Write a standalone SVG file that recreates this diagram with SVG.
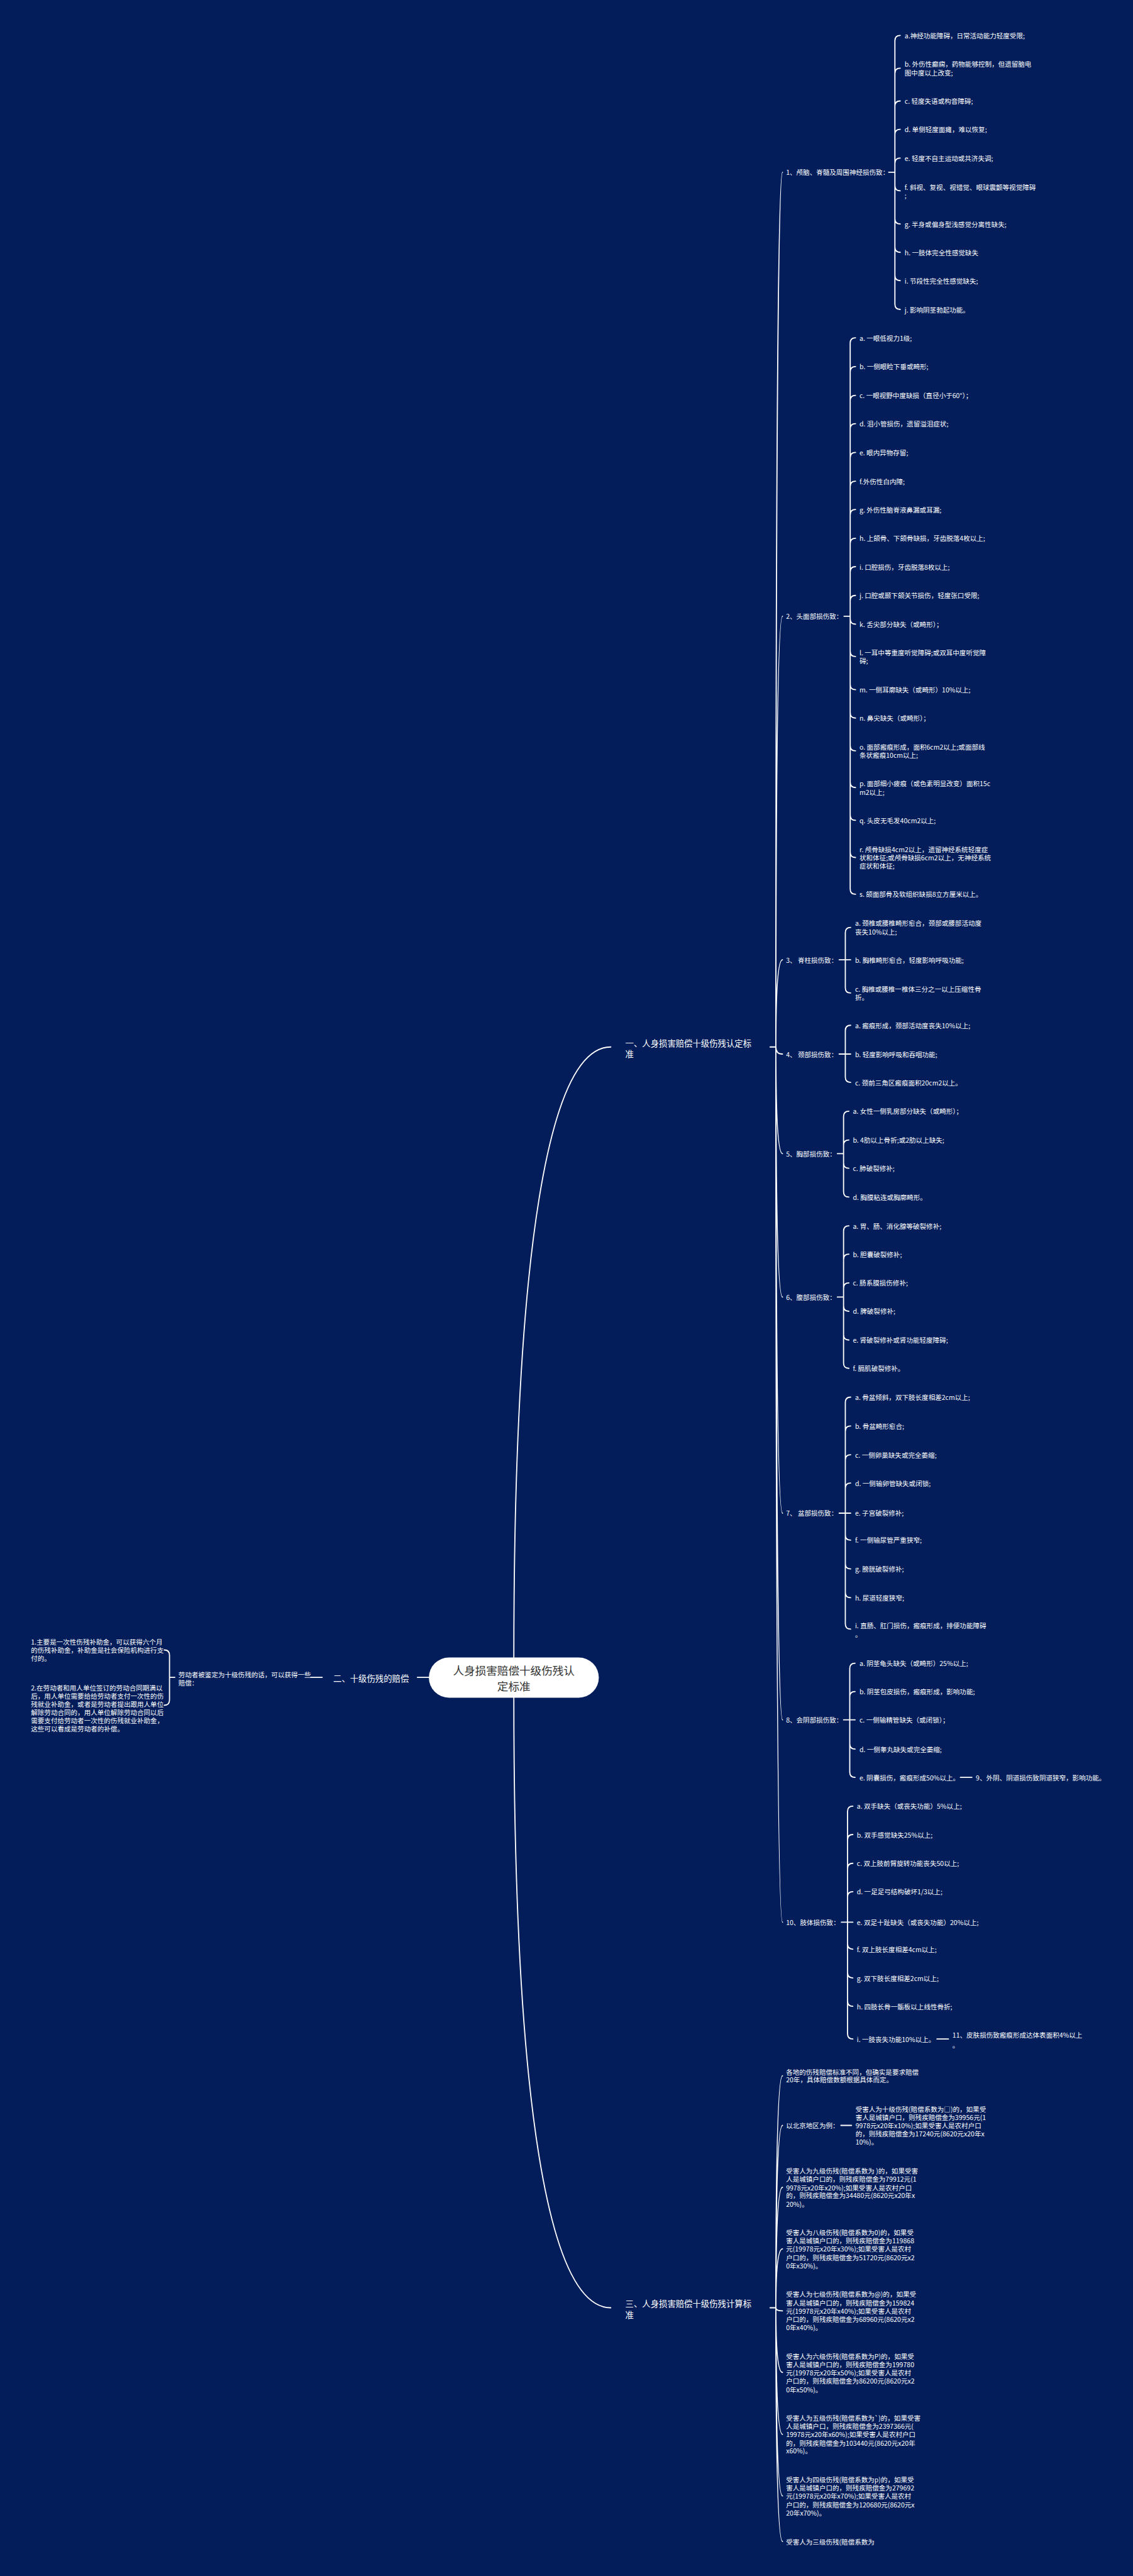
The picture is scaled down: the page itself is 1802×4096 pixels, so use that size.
<svg xmlns="http://www.w3.org/2000/svg" width="1802" height="4096" viewBox="0 0 1802 4096">
<style>
.bg{fill:#021d5a}
text{font-family:"Noto Sans CJK SC","Noto Sans",sans-serif;fill:#fff;dominant-baseline:central;font-size:15px}
.h{font-size:19px}
.root{fill:#fff}
.rt{fill:#333;font-size:25px;text-anchor:middle}
.c{fill:none;stroke:#fff;stroke-width:2.6;stroke-linecap:round}
</style>
<rect class="bg" x="0" y="0" width="1802" height="4096"/>
<g transform="scale(0.70391)">
<g id="connectors">
<path class="c" d="M1161 3744C1161 2820 1240 2365 1380 2365"/>
<path class="c" d="M1161 3835C1161 4760 1240 5213 1380 5213"/>
<path class="c" d="M943 3789H969M702 3789H728"/>
<path class="c" d="M395 3789H383M383 3789V3739Q383 3727 371 3727M383 3789V3840Q383 3852 371 3852"/>
<path class="c" d="M1740 2365H1753M1753 2365Q1753 389 1768 389M1753 2365Q1753 1392 1768 1392M1753 2365Q1753 2168 1768 2168M1753 2365Q1753 2381 1768 2381M1753 2365Q1753 2606 1768 2606M1753 2365Q1753 2930 1768 2930M1753 2365Q1753 3418 1768 3418M1753 2365Q1753 3885 1768 3885M1753 2365Q1753 4342 1768 4342"/>
<path class="c" d="M1740 5213H1753M1753 5213Q1753 4689 1768 4689M1753 5213Q1753 4801 1768 4801M1753 5213Q1753 4941 1768 4941M1753 5213Q1753 5080 1768 5080M1753 5213Q1753 5220 1768 5220M1753 5213Q1753 5359 1768 5359M1753 5213Q1753 5499 1768 5499M1753 5213Q1753 5638 1768 5638M1753 5213Q1753 5741 1768 5741"/>
<path class="c" d="M1900 4801H1924"/>
<path class="c" d="M2008 389H2022M2022 389V92Q2022 80 2034 80M2022 389V166Q2022 154 2034 154M2022 389V240Q2022 228 2034 228M2022 389V304Q2022 292 2034 292M2022 389V369Q2022 357 2034 357M2022 389V419Q2022 431 2034 431M2022 389V494Q2022 506 2034 506M2022 389V558Q2022 570 2034 570M2022 389V622Q2022 634 2034 634M2022 389V687Q2022 699 2034 699"/>
<path class="c" d="M1907 1392H1921M1921 1392V775Q1921 763 1933 763M1921 1392V840Q1921 828 1933 828M1921 1392V905Q1921 893 1933 893M1921 1392V969Q1921 957 1933 957M1921 1392V1034Q1921 1022 1933 1022M1921 1392V1099Q1921 1087 1933 1087M1921 1392V1163Q1921 1151 1933 1151M1921 1392V1228Q1921 1216 1933 1216M1921 1392V1292Q1921 1280 1933 1280M1921 1392V1357Q1921 1345 1933 1345M1921 1392V1398Q1921 1410 1933 1410M1921 1392V1471Q1921 1483 1933 1483M1921 1392V1546Q1921 1558 1933 1558M1921 1392V1610Q1921 1622 1933 1622M1921 1392V1684Q1921 1696 1933 1696M1921 1392V1767Q1921 1779 1933 1779M1921 1392V1841Q1921 1853 1933 1853M1921 1392V1925Q1921 1937 1933 1937M1921 1392V2008Q1921 2020 1933 2020"/>
<path class="c" d="M1896 2168H1922M1910 2168V2107Q1910 2095 1922 2095M1910 2168V2231Q1910 2243 1922 2243"/>
<path class="c" d="M1896 2381H1922M1910 2381V2328Q1910 2316 1922 2316M1910 2381V2433Q1910 2445 1922 2445"/>
<path class="c" d="M1892 2606H1906M1906 2606V2522Q1906 2510 1918 2510M1906 2606V2587Q1906 2575 1918 2575M1906 2606V2627Q1906 2639 1918 2639M1906 2606V2692Q1906 2704 1918 2704"/>
<path class="c" d="M1892 2930H1906M1906 2930V2781Q1906 2769 1918 2769M1906 2930V2845Q1906 2833 1918 2833M1906 2930V2910Q1906 2898 1918 2898M1906 2930V2950Q1906 2962 1918 2962M1906 2930V3015Q1906 3027 1918 3027M1906 2930V3079Q1906 3091 1918 3091"/>
<path class="c" d="M1896 3418H1922M1910 3418V3168Q1910 3156 1922 3156M1910 3418V3233Q1910 3221 1922 3221M1910 3418V3298Q1910 3286 1922 3286M1910 3418V3362Q1910 3350 1922 3350M1910 3418V3467Q1910 3479 1922 3479M1910 3418V3532Q1910 3544 1922 3544M1910 3418V3597Q1910 3609 1922 3609M1910 3418V3668Q1910 3680 1922 3680"/>
<path class="c" d="M1906 3885H1932M1920 3885V3769Q1920 3757 1932 3757M1920 3885V3833Q1920 3821 1932 3821M1920 3885V3939Q1920 3951 1932 3951M1920 3885V4003Q1920 4015 1932 4015M2170 4015H2196"/>
<path class="c" d="M1901 4342H1927M1915 4342V4092Q1915 4080 1927 4080M1915 4342V4156Q1915 4144 1927 4144M1915 4342V4221Q1915 4209 1927 4209M1915 4342V4285Q1915 4273 1927 4273M1915 4342V4391Q1915 4403 1927 4403M1915 4342V4456Q1915 4468 1927 4468M1915 4342V4520Q1915 4532 1927 4532M1915 4342V4594Q1915 4606 1927 4606M2117 4606H2143"/>
</g>
<g id="root">
<rect class="root" x="969" y="3744" width="384" height="91" rx="45.5"/>
<text class="rt" x="1161" y="3773">人身损害赔偿十级伤残认</text>
<text class="rt" x="1161" y="3808">定标准</text>
</g>
<g id="b1">
<text class="h" x="1413" y="2355">一、人身损害赔偿十级伤残认定标</text>
<text class="h" x="1413" y="2380">准</text>
</g>
<g id="b2">
<text class="h" x="753" y="3790">二、十级伤残的赔偿</text>
</g>
<g id="b2-1">
<text x="403" y="3782">劳动者被鉴定为十级伤残的话，可以获得一些</text>
<text x="403" y="3801">赔偿：</text>
</g>
<g id="b2-1-1">
<text x="70" y="3708">1.主要是一次性伤残补助金，可以获得六个月</text>
<text x="70" y="3727">的伤残补助金，补助金是社会保险机构进行支</text>
<text x="70" y="3746">付的。</text>
</g>
<g id="b2-1-2">
<text x="70" y="3812">2.在劳动者和用人单位签订的劳动合同期满以</text>
<text x="70" y="3831">后，用人单位需要给给劳动者支付一次性的伤</text>
<text x="70" y="3849">残就业补助金，或者是劳动者提出跟用人单位</text>
<text x="70" y="3868">解除劳动合同的，用人单位解除劳动合同以后</text>
<text x="70" y="3886">需要支付给劳动者一次性的伤残就业补助金，</text>
<text x="70" y="3905">这些可以看成是劳动者的补偿。</text>
</g>
<g id="b3">
<text class="h" x="1413" y="5203">三、人身损害赔偿十级伤残计算标</text>
<text class="h" x="1413" y="5228">准</text>
</g>
<g id="c1">
<text x="1776" y="389">1、颅脑、脊髓及周围神经损伤致：</text>
<text x="2044" y="80">a.神经功能障碍，日常活动能力轻度受限;</text>
<text x="2044" y="144">b. 外伤性癫痫，药物能够控制，但遗留脑电</text>
<text x="2044" y="164">图中度以上改变;</text>
<text x="2044" y="228">c. 轻度失语或构音障碍;</text>
<text x="2044" y="292">d. 单侧轻度面瘫，难以恢复;</text>
<text x="2044" y="357">e. 轻度不自主运动或共济失调;</text>
<text x="2044" y="422">f. 斜视、复视、视错觉、眼球震颤等视觉障碍</text>
<text x="2044" y="441">;</text>
<text x="2044" y="506">g. 半身或偏身型浅感觉分离性缺失;</text>
<text x="2044" y="570">h. 一肢体完全性感觉缺失</text>
<text x="2044" y="634">i. 节段性完全性感觉缺失;</text>
<text x="2044" y="699">j. 影响阴茎勃起功能。</text>
</g>
<g id="c2">
<text x="1776" y="1392">2、头面部损伤致：</text>
<text x="1942" y="763">a. 一眼低视力1级;</text>
<text x="1942" y="828">b. 一侧眼睑下垂或畸形;</text>
<text x="1942" y="893">c. 一眼视野中度缺损（直径小于60°）；</text>
<text x="1942" y="957">d. 泪小管损伤，遗留溢泪症状;</text>
<text x="1942" y="1022">e. 眼内异物存留;</text>
<text x="1942" y="1087">f.外伤性白内障;</text>
<text x="1942" y="1151">g. 外伤性脑脊液鼻漏或耳漏;</text>
<text x="1942" y="1216">h. 上颌骨、下颌骨缺损，牙齿脱落4枚以上;</text>
<text x="1942" y="1280">i. 口腔损伤，牙齿脱落8枚以上;</text>
<text x="1942" y="1345">j. 口腔或颞下颌关节损伤，轻度张口受限;</text>
<text x="1942" y="1410">k. 舌尖部分缺失（或畸形）；</text>
<text x="1942" y="1474">l. 一耳中等重度听觉障碍;或双耳中度听觉障</text>
<text x="1942" y="1493">碍;</text>
<text x="1942" y="1558">m. 一侧耳廓缺失（或畸形）10%以上;</text>
<text x="1942" y="1622">n. 鼻尖缺失（或畸形）；</text>
<text x="1942" y="1687">o. 面部瘢痕形成，面积6cm2以上;或面部线</text>
<text x="1942" y="1706">条状瘢痕10cm以上;</text>
<text x="1942" y="1770">p. 面部细小疲痕（或色素明显改变）面积15c</text>
<text x="1942" y="1789">m2以上;</text>
<text x="1942" y="1853">q. 头皮无毛发40cm2以上;</text>
<text x="1942" y="1918">r. 颅骨缺损4cm2以上，遗留神经系统轻度症</text>
<text x="1942" y="1937">状和体征;或颅骨缺损6cm2以上，无神经系统</text>
<text x="1942" y="1956">症状和体征;</text>
<text x="1942" y="2020">s. 颌面部骨及软组织缺损8立方厘米以上。</text>
</g>
<g id="c3">
<text x="1776" y="2168">3、 脊柱损伤致：</text>
<text x="1932" y="2085">a. 颈椎或腰椎畸形愈合，颈部或腰部活动度</text>
<text x="1932" y="2104">丧失10%以上;</text>
<text x="1932" y="2168">b. 胸椎畸形愈合，轻度影响呼吸功能;</text>
<text x="1932" y="2234">c. 胸椎或腰椎一椎体三分之一以上压缩性骨</text>
<text x="1932" y="2253">折。</text>
</g>
<g id="c4">
<text x="1776" y="2381">4、 颈部损伤致：</text>
<text x="1932" y="2316">a. 瘢痕形成，颈部活动度丧失10%以上;</text>
<text x="1932" y="2381">b. 轻度影响呼吸和吞咽功能;</text>
<text x="1932" y="2445">c. 颈前三角区瘢痕面积20cm2以上。</text>
</g>
<g id="c5">
<text x="1776" y="2606">5、胸部损伤致：</text>
<text x="1927" y="2510">a. 女性一侧乳房部分缺失（或畸形）；</text>
<text x="1927" y="2575">b. 4肋以上骨折;或2肋以上缺失;</text>
<text x="1927" y="2639">c. 肺破裂修补;</text>
<text x="1927" y="2704">d. 胸膜粘连或胸廓畸形。</text>
</g>
<g id="c6">
<text x="1776" y="2930">6、腹部损伤致：</text>
<text x="1927" y="2769">a. 胃、肠、消化腺等破裂修补;</text>
<text x="1927" y="2833">b. 胆囊破裂修补;</text>
<text x="1927" y="2898">c. 肠系膜损伤修补;</text>
<text x="1927" y="2962">d. 脾破裂修补;</text>
<text x="1927" y="3027">e. 肾破裂修补或肾功能轻度障碍;</text>
<text x="1927" y="3091">f. 膈肌破裂修补。</text>
</g>
<g id="c7">
<text x="1776" y="3418">7、 盆部损伤致：</text>
<text x="1932" y="3156">a. 骨盆倾斜，双下肢长度相差2cm以上;</text>
<text x="1932" y="3221">b. 骨盆畸形愈合;</text>
<text x="1932" y="3286">c. 一侧卵巢缺失或完全萎缩;</text>
<text x="1932" y="3350">d. 一侧输卵管缺失或闭锁;</text>
<text x="1932" y="3418">e. 子宫破裂修补;</text>
<text x="1932" y="3479">f. 一侧输尿管严重狭窄;</text>
<text x="1932" y="3544">g. 膀胱破裂修补;</text>
<text x="1932" y="3609">h. 尿道轻度狭窄;</text>
<text x="1932" y="3672">i. 直肠、肛门损伤，瘢痕形成，排便功能障碍</text>
<text x="1932" y="3692">。</text>
</g>
<g id="c8">
<text x="1776" y="3885">8、会阴部损伤致：</text>
<text x="1942" y="3757">a. 阴茎龟头缺失（或畸形）25%以上;</text>
<text x="1942" y="3821">b. 阴茎包皮损伤，瘢痕形成，影响功能;</text>
<text x="1942" y="3885">c. 一侧输精管缺失（或闭锁）；</text>
<text x="1942" y="3951">d. 一侧睾丸缺失或完全萎缩;</text>
<text x="1942" y="4015">e. 阴囊损伤，瘢痕形成50%以上。</text>
<text x="2205" y="4015">9、外阴、阴道损伤致阴道狭窄，影响功能。</text>
</g>
<g id="c10">
<text x="1776" y="4342">10、肢体损伤致：</text>
<text x="1936" y="4080">a. 双手缺失（或丧失功能）5%以上;</text>
<text x="1936" y="4144">b. 双手感觉缺失25%以上;</text>
<text x="1936" y="4209">c. 双上肢前臂旋转功能丧失50以上;</text>
<text x="1936" y="4273">d. 一足足弓结构破坏1/3以上;</text>
<text x="1936" y="4342">e. 双足十趾缺失（或丧失功能）20%以上;</text>
<text x="1936" y="4403">f. 双上肢长度相差4cm以上;</text>
<text x="1936" y="4468">g. 双下肢长度相差2cm以上;</text>
<text x="1936" y="4532">h. 四肢长骨一骺板以上线性骨折;</text>
<text x="1936" y="4606">i. 一肢丧失功能10%以上。</text>
<text x="2152" y="4596">11、皮肤损伤致瘢痕形成达体表面积4%以上</text>
<text x="2152" y="4619">。</text>
</g>
<g id="d1">
<text x="1776" y="4680">各地的伤残赔偿标准不同，但确实是要求赔偿</text>
<text x="1776" y="4698">20年，具体赔偿数额根据具体而定。</text>
</g>
<g id="d2">
<text x="1776" y="4801">以北京地区为例：</text>
<text x="1933" y="4764">受害人为十级伤残(赔偿系数为□)的，如果受</text>
<text x="1933" y="4782">害人是城镇户口，则残疾赔偿金为39956元(1</text>
<text x="1933" y="4801">9978元x20年x10%);如果受害人是农村户口</text>
<text x="1933" y="4819">的，则残疾赔偿金为17240元(8620元x20年x</text>
<text x="1933" y="4838">10%)。</text>
</g>
<g id="d3">
<text x="1776" y="4903">受害人为九级伤残(赔偿系数为 )的，如果受害</text>
<text x="1776" y="4922">人是城镇户口的，则残疾赔偿金为79912元(1</text>
<text x="1776" y="4941">9978元x20年x20%);如果受害人是农村户口</text>
<text x="1776" y="4959">的，则残疾赔偿金为34480元(8620元x20年x</text>
<text x="1776" y="4978">20%)。</text>
</g>
<g id="d4">
<text x="1776" y="5043">受害人为八级伤残(赔偿系数为0)的，如果受</text>
<text x="1776" y="5061">害人是城镇户口的，则残疾赔偿金为119868</text>
<text x="1776" y="5080">元(19978元x20年x30%);如果受害人是农村</text>
<text x="1776" y="5099">户口的，则残疾赔偿金为51720元(8620元x2</text>
<text x="1776" y="5118">0年x30%)。</text>
</g>
<g id="d5">
<text x="1776" y="5182">受害人为七级伤残(赔偿系数为@)的，如果受</text>
<text x="1776" y="5201">害人是城镇户口的，则残疾赔偿金为159824</text>
<text x="1776" y="5220">元(19978元x20年x40%);如果受害人是农村</text>
<text x="1776" y="5239">户口的，则残疾赔偿金为68960元(8620元x2</text>
<text x="1776" y="5257">0年x40%)。</text>
</g>
<g id="d6">
<text x="1776" y="5322">受害人为六级伤残(赔偿系数为P)的，如果受</text>
<text x="1776" y="5341">害人是城镇户口的，则残疾赔偿金为199780</text>
<text x="1776" y="5359">元(19978元x20年x50%);如果受害人是农村</text>
<text x="1776" y="5378">户口的，则残疾赔偿金为86200元(8620元x2</text>
<text x="1776" y="5397">0年x50%)。</text>
</g>
<g id="d7">
<text x="1776" y="5462">受害人为五级伤残(赔偿系数为`)的，如果受害</text>
<text x="1776" y="5480">人是城镇户口，则残疾赔偿金为2397366元(</text>
<text x="1776" y="5499">19978元x20年x60%);如果受害人是农村户口</text>
<text x="1776" y="5518">的，则残疾赔偿金为103440元(8620元x20年</text>
<text x="1776" y="5536">x60%)。</text>
</g>
<g id="d8">
<text x="1776" y="5601">受害人为四级伤残(赔偿系数为p)的，如果受</text>
<text x="1776" y="5620">害人是城镇户口的，则残疾赔偿金为279692</text>
<text x="1776" y="5638">元(19978元x20年x70%);如果受害人是农村</text>
<text x="1776" y="5657">户口的，则残疾赔偿金为120680元(8620元x</text>
<text x="1776" y="5676">20年x70%)。</text>
</g>
<g id="d9">
<text x="1776" y="5741">受害人为三级伤残(赔偿系数为</text>
</g>
</g>
</svg>
